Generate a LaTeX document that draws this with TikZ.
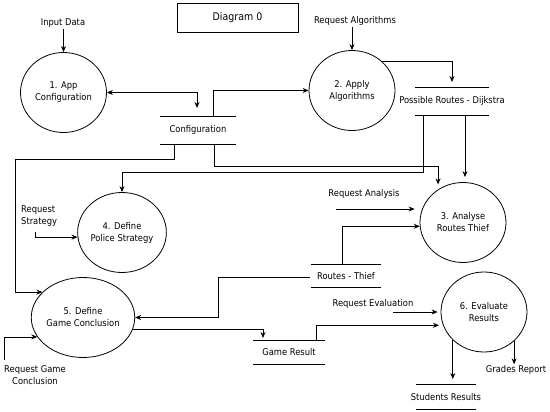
\documentclass[tikz,border=0pt]{standalone}
\usepackage{fontspec}
\setmainfont{DejaVu Sans Condensed}
\usetikzlibrary{shapes.geometric,arrows.meta,calc}
\begin{document}
\begin{tikzpicture}[x=1pt,y=-1pt, font=\fontsize{9.3}{12}\selectfont,
  proc/.style={ellipse, draw, line width=0.8pt, minimum width=86pt, minimum height=80pt, inner sep=0pt, align=center},
  lbl/.style={inner sep=1pt, align=center},
  flow/.style={-{Stealth[length=6pt,width=5pt]}, line width=0.8pt},
  bothflow/.style={{Stealth[length=6pt,width=5pt]}-{Stealth[length=6pt,width=5pt]}, line width=0.8pt},
  storeline/.style={line width=0.8pt}]
\useasboundingbox (0,0) rectangle (550,412);

% title
\node[draw, line width=0.8pt, minimum width=121pt, minimum height=29pt, font=\fontsize{10.5}{12}\selectfont] (title) at (237.5,17.5) {Diagram 0};

% processes
\node[proc] (c1) at (63.5,92.5) {1. App\\Configuration};
\node[proc] (c2) at (352,90.5) {2. Apply\\Algorithms};
\node[proc] (c3) at (463,222.5) {3. Analyse\\Routes Thief};
\node[proc] (c4) at (122,232.5) {4. Define\\Police Strategy};
\node[proc] (c5) at (83,317.5) {5. Define\\Game Conclusion};
\node[proc] (c6) at (484,312) {6. Evaluate\\Results};

% data stores
\node[lbl] (cfg) at (198,130) {Configuration};
\node[lbl] (prd) at (452,101) {Possible Routes - Dijkstra};
\node[lbl] (rt) at (346,276) {Routes - Thief};
\node[lbl] (gr) at (289,352) {Game Result};
\node[lbl] (sr) at (446,397) {Students Results};
\foreach \n/\w/\h in {cfg/38/14, prd/37/14, rt/35/11.5, gr/36/12, sr/30/12.5}{
  \draw[storeline] ($(\n.center)+(-\w,-\h)$) -- ++({2*\w},0)
                   ($(\n.center)+(-\w,\h)$) -- ++({2*\w},0);
}

% external labels
\node[lbl] (indata) at (63,23) {Input Data};
\node[lbl] (reqalg) at (355,21) {Request Algorithms};
\node[lbl, align=left, anchor=west] (reqstr) at (20,216) {Request\\Strategy};
\node[lbl] (reqana) at (364,194) {Request Analysis};
\node[lbl] (reqev) at (373,304) {Request Evaluation};
\node[lbl] (grades) at (516,370) {Grades Report};
\node[lbl] (reqgc) at (35,375) {Request Game\\Conclusion};

% connector ends
\coordinate (cfgIn) at (197,108);
\coordinate (cfgOutA) at (213,116);
\coordinate (cfgOutB) at (174,144);
\coordinate (cfgOutC) at (214,144);
\coordinate (prdIn) at (452,82);
\coordinate (prdOutA) at (423,115);
\coordinate (prdOutB) at (465,115);
\coordinate (rtOut) at (342,264.5);
\coordinate (rtL) at (310,277);
\coordinate (grIn) at (263,338);
\coordinate (grOut) at (316,340);
\coordinate (srIn) at (453,379);
\coordinate (strA) at (35,232);
\coordinate (anaA) at (336,209);
\coordinate (evA) at (393,312);
\coordinate (gcA) at (4,360);

% connectors
\draw[flow] (c1.north |- indata.south) -- (c1.north);
\draw[flow] (c2.north |- reqalg.south) -- (c2.north);
\draw[bothflow] (c1.east) -| (cfgIn);
\draw[flow] (cfgOutA) |- (c2.west);
\draw[flow] (c2.45) -| (prdIn);
\draw[flow] (prdOutA) |- ($(c4.north)+(0,-20)$) -- (c4.north);
\draw[flow, shorten >=5pt] (prdOutB) -- (prdOutB |- c3.north);
\draw[flow, shorten >=5pt] (cfgOutC) -- ++(0,22) -| (c3.127);
\draw[flow] (cfgOutB) -- ++(0,15) -- ++(-159,0) |- (c5.148);
\draw[flow] (strA) |- (c4.186);
\draw[flow, shorten >=5pt] (anaA) -- (anaA -| c3.west);
\draw[flow] (rtOut) |- (c3.185);
\draw[flow] (rtL) -- ++(-92,0) |- (c5.east);
\draw[flow] (c5.-13) -| (grIn);
\draw[flow, shorten >=4pt] (grOut) |- (c6.198);
\draw[flow, shorten >=3pt] (evA) -- (c6.west);
\draw[flow] (c6.-138) -- (c6.-138 |- srIn);
\draw[flow] (c6.-44) -- (c6.-44 |- grades.north);
\draw[flow] (gcA) |- (c5.-157);
\end{tikzpicture}
\end{document}
